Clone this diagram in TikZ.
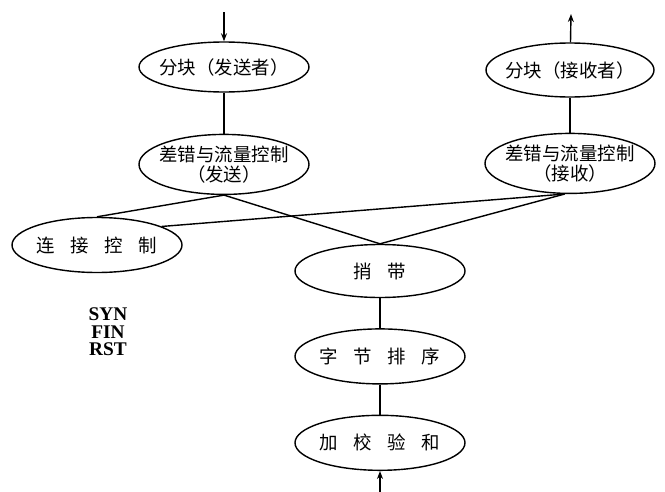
\documentclass[tikz,border=0pt]{standalone}
\usepackage{fontspec}
\newfontfamily\cjk{Noto Sans CJK SC}
\newfontfamily\latinserif{Liberation Serif}
\usepackage{tikz}
\usetikzlibrary{arrows.meta, positioning, shapes.geometric}
\tikzset{
  layer/.style={ellipse, draw, line width=0.8pt, minimum width=3.4cm, minimum height=1.1cm,
                inner xsep=-3mm, inner ysep=-1mm, align=center,
                font=\cjk\fontsize{10.5}{11.5}\selectfont},
  link/.style={line width=0.8pt},
  flow/.style={-{Stealth[length=1.6mm, width=1.2mm]}, line width=0.8pt},
}
\newcommand{\cgap}{\hspace{0.85em}}

\begin{document}
\begin{tikzpicture}
    \useasboundingbox (0,0) rectangle (13.3,-9.84);

    % sender side
    \node[layer, minimum height=1.0cm] (segsend) at (4.48,-1.34) {分块（发送者）};
    \node[layer, minimum height=1.2cm, below=0.82cm of segsend] (errsend) {差错与流量控制\\（发送）};

    % receiver side
    \node[layer, minimum height=1.08cm, minimum width=3.36cm] (segrecv) at (11.4,-1.4) {分块（接收者）};
    \node[layer, minimum height=1.2cm, below=0.7cm of segrecv] (errrecv) {差错与流量控制\\（接收）};

    % shared layers
    \node[layer] (conn) at (1.94,-4.9) {连\cgap 接\cgap 控\cgap 制};
    \node[layer, minimum height=1.06cm] (piggy) at (7.6,-5.42) {捎\cgap 带};
    \node[layer, below=0.6cm of piggy] (order) {字\cgap 节\cgap 排\cgap 序};
    \node[layer, below=0.6cm of order] (cksum) {加\cgap 校\cgap 验\cgap 和};

    \node[font=\latinserif\bfseries\fontsize{11}{10}\selectfont, align=center] (flags) at (2.16,-6.64) {SYN\\FIN\\RST};

    \coordinate (in) at (4.48,-0.24);
    \coordinate (out) at (11.42,-0.28);
    \coordinate (wire) at (7.6,-9.84);

    \draw[flow] (in) -- (segsend);
    \draw[flow] (segrecv) -- (out);
    \draw[flow] (wire) -- (cksum);

    \draw[link] (segsend) -- (errsend);
    \draw[link] (segrecv) -- (errrecv);
    \draw[link] (errsend.south) -- (conn.north);
    \draw[link] (errsend.south) -- (piggy.north);
    \draw[link] (errrecv.-100) -- (conn.16);
    \draw[link] (errrecv.-100) -- (piggy.north);
    \draw[link] (piggy) -- (order);
    \draw[link] (order) -- (cksum);
\end{tikzpicture}
\end{document}
